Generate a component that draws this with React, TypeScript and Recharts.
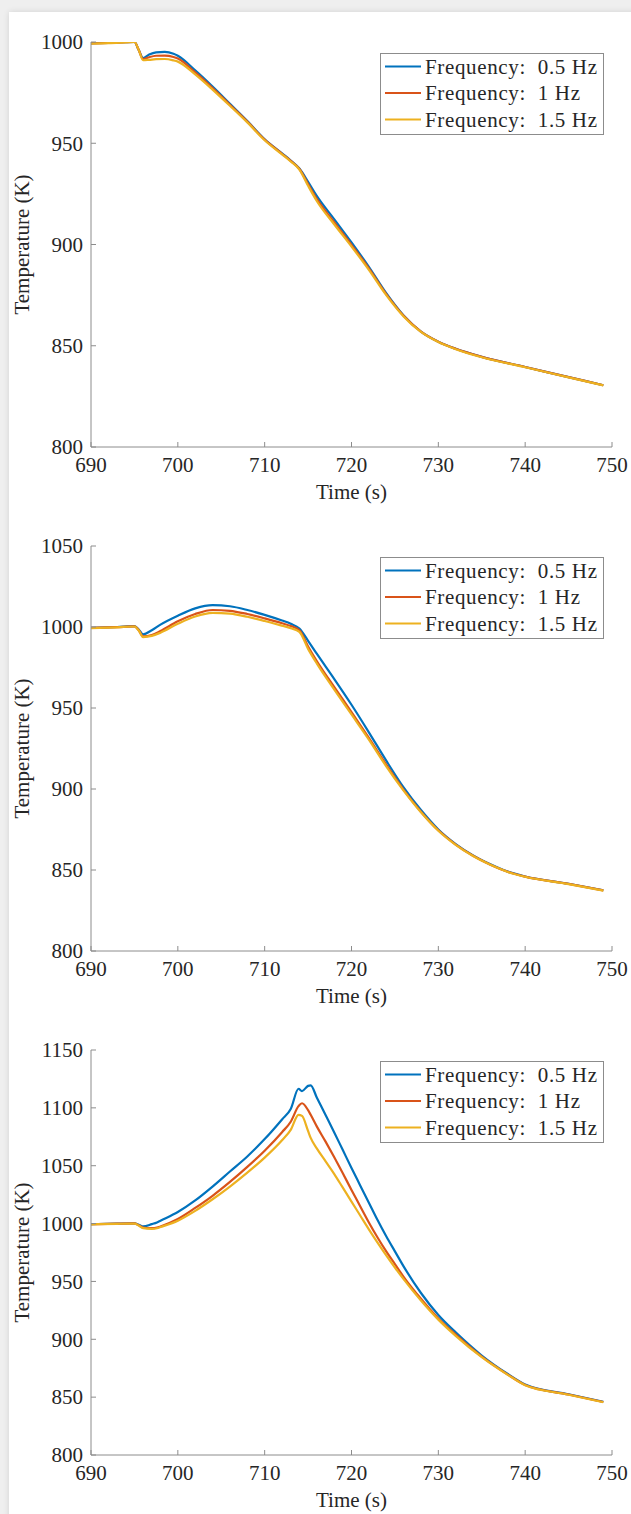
import React from 'react';
import { LineChart, Line, XAxis, YAxis, Legend } from 'recharts';

const FONT = "'Liberation Serif', 'Times New Roman', serif";
const TEXT = '#262626';
const AXIS = '#8c8c8c';
const COLORS = ['#0072BD', '#D95319', '#EDB120'];
const seriesNames = ['Frequency:  0.5 Hz', 'Frequency:  1 Hz', 'Frequency:  1.5 Hz'];
const seriesWidths = [172, 155, 172];
const timeTicks = [690, 700, 710, 720, 730, 740, 750];

// Probe #1
const probe1Time = [690, 692, 694, 695, 695.5, 696, 696.7, 697.5, 698.5, 699.5, 700, 702, 704, 706, 708, 710, 712, 713, 714, 715, 716, 718, 720, 722, 724, 726, 728, 730, 732, 735, 740, 745, 749];
const probe1Hz05 = [999.4, 999.6, 999.9, 1000, 996, 992, 993.8, 994.9, 995.1, 994.2, 993.2, 986, 978, 969.5, 961, 952, 945, 941.5, 937.5, 931, 924, 912.5, 901, 889, 876, 865, 857, 852, 848.5, 844.5, 839.5, 834.5, 830.5];
const probe1Hz1 = [999.3, 999.5, 999.9, 1000, 996, 991.5, 992.5, 993.2, 993.3, 992.6, 991.8, 985, 977.3, 969, 960.7, 951.8, 944.8, 941.3, 937.3, 929.8, 922.5, 911, 899.8, 888.2, 875.5, 864.8, 857, 852, 848.5, 844.5, 839.5, 834.5, 830.5];
const probe1Hz15 = [999.2, 999.4, 999.8, 1000, 996, 991, 991.2, 991.5, 991.6, 990.9, 990.3, 984, 976.5, 968.5, 960.3, 951.5, 944.5, 941, 937, 929, 921.5, 910, 899, 887.5, 875, 864.5, 856.8, 851.8, 848.3, 844.3, 839.4, 834.4, 830.4];
const probe1Ticks = [800, 850, 900, 950, 1000];

// Probe #2
const probe2Time = [690, 693, 695, 695.5, 696, 697, 698, 700, 702, 704, 706, 708, 710, 712, 713, 714, 715, 716, 718, 720, 722, 724, 726, 728, 730, 732, 734, 736, 738, 740, 745, 749];
const probe2Hz05 = [999.5, 1000, 1000.5, 998.5, 995.5, 998, 1001.5, 1007, 1011.5, 1013.5, 1012.8, 1010.5, 1007.5, 1004, 1002, 999, 991.5, 983.5, 968, 952, 935, 917.5, 901, 887, 875, 866, 859, 853.5, 849, 846, 841.5, 837.5];
const probe2Hz1 = [999.4, 999.9, 1000.4, 998, 994.2, 995, 997.5, 1003.5, 1008, 1010.5, 1010, 1008, 1005.3, 1002.3, 1000.6, 998, 988, 979, 963, 947.5, 931.5, 915, 899.5, 886, 874.5, 865.7, 858.8, 853.3, 848.9, 845.9, 841.4, 837.4];
const probe2Hz15 = [999.3, 999.8, 1000.3, 997.8, 993.8, 994.5, 996.5, 1002, 1006.5, 1008.7, 1008.2, 1006.3, 1003.7, 1000.8, 999.3, 997, 986.5, 977.5, 961.5, 946, 930.5, 914, 899, 885.6, 874.2, 865.5, 858.6, 853.2, 848.8, 845.8, 841.3, 837.3];
const probe2Ticks = [800, 850, 900, 950, 1000, 1050];

// Probe #3
const probe3Time = [690, 693, 695, 695.5, 696, 697, 697.6, 698, 700, 702, 704, 706, 708, 710, 712, 713, 713.9, 714.3, 715, 715.3, 716, 717, 718, 719, 720, 721, 722, 723, 724, 725, 726, 728, 730, 732, 735, 738, 740, 745, 749];
const probe3Hz05 = [999.5, 1000, 1000.2, 999, 997.5, 999.5, 1001, 1002.5, 1010, 1020, 1032, 1045, 1058, 1073, 1090, 1099, 1116.5, 1114.5, 1119, 1119.5, 1109, 1094, 1079, 1063.5, 1048, 1033, 1018, 1003, 989, 976, 963, 940, 921, 906, 886, 870, 861, 852.5, 846];
const probe3Hz1 = [999.4, 999.9, 1000.1, 998.5, 996.5, 996, 996.5, 997.5, 1004, 1013.5, 1024, 1036, 1049, 1063, 1079, 1088, 1101.5, 1104, 1098, 1094, 1084, 1071, 1057.5, 1043.5, 1029, 1015, 1001, 988, 976, 965, 954, 935, 918, 904, 885, 869.5, 860.5, 852.3, 845.8];
const probe3Hz15 = [999.3, 999.8, 1000, 998.3, 996, 995.5, 996, 997, 1002.5, 1011, 1021, 1032, 1044, 1057, 1072, 1081, 1094, 1093, 1080, 1074, 1065, 1054, 1043, 1031, 1019, 1007, 995, 983.5, 972.5, 962, 952, 933.5, 917, 903, 884.5, 869.3, 860.3, 852.1, 845.6];
const probe3Ticks = [800, 850, 900, 950, 1000, 1050, 1100, 1150];

const CHART_W = 631;
const CHART_H = 504;
const MARGIN = { top: 42, right: 19, bottom: 0, left: 0 };
const PLOT_LEFT = 91;
const PLOT_RIGHT = CHART_W - MARGIN.right;
const PLOT_CX = (PLOT_LEFT + PLOT_RIGHT) / 2;
const FONT_SIZE = 21;
const textStyle = { fontFamily: FONT, fontSize: FONT_SIZE, fill: TEXT };

function BottomTick(props: any) {
  const { x, y, payload } = props;
  return (
    <text x={x} y={y} dy="0.71em" textAnchor="middle" style={textStyle}>
      {payload.value}
    </text>
  );
}

function LeftTick(props: any) {
  const { x, y, payload } = props;
  return (
    <text x={x} y={y} dy="0.35em" textAnchor="end" style={textStyle}>
      {payload.value}
    </text>
  );
}

function LegendBox() {
  return (
    <svg width={224} height={82} style={{ display: 'block' }}>
      <rect x={0.5} y={0.5} width={223} height={81} fill="#ffffff" stroke={AXIS} strokeWidth={1} />
      {seriesNames.map((name, i) => {
        const cy = 13.5 + i * 26.5;
        return (
          <g key={name}>
            <line x1={5} x2={41} y1={cy} y2={cy} stroke={COLORS[i]} strokeWidth={2.2} />
            <text
              x={45}
              y={cy + 7}
              textLength={seriesWidths[i]}
              lengthAdjust="spacing"
              style={{ ...textStyle, whiteSpace: 'pre' }}
            >
              {name}
            </text>
          </g>
        );
      })}
    </svg>
  );
}

type ProbeProps = {
  title: string;
  time: number[];
  series: number[][];
  yTicks: number[];
  top: number;
};

function ProbeChart({ title, time, series, yTicks, top }: ProbeProps) {
  const rows = time.map((t, i) => ({ t, a: series[0][i], b: series[1][i], c: series[2][i] }));
  const yDomain: [number, number] = [yTicks[0], yTicks[yTicks.length - 1]];
  const plotMidY = MARGIN.top + (CHART_H - MARGIN.top - 57) / 2;
  return (
    <div style={{ position: 'absolute', left: 0, top, width: CHART_W, height: CHART_H }}>
      <LineChart width={CHART_W} height={CHART_H} data={rows} margin={MARGIN}>
        <XAxis
          xAxisId="bottom"
          dataKey="t"
          type="number"
          domain={[690, 750]}
          ticks={timeTicks}
          interval={0}
          allowDataOverflow
          height={57}
          tickSize={-5}
          tickMargin={15}
          axisLine={{ stroke: AXIS }}
          tickLine={{ stroke: AXIS }}
          tick={<BottomTick />}
          label={{
            content: () => (
              <text x={PLOT_CX} y={499} textAnchor="middle" style={textStyle}>
                Time (s)
              </text>
            ),
          }}
        />
        <XAxis
          xAxisId="top"
          orientation="top"
          dataKey="t"
          type="number"
          domain={[690, 750]}
          ticks={timeTicks}
          interval={0}
          allowDataOverflow
          height={0}
          tickSize={-5}
          tickMargin={0}
          axisLine={{ stroke: AXIS }}
          tickLine={{ stroke: AXIS }}
          tick={false}
          label={{
            content: () => (
              <text x={PLOT_CX} y={29} textAnchor="middle" style={textStyle}>
                {title}
              </text>
            ),
          }}
        />
        <YAxis
          yAxisId="left"
          type="number"
          domain={yDomain}
          ticks={yTicks}
          interval={0}
          allowDataOverflow
          width={PLOT_LEFT}
          tickSize={-5}
          tickMargin={13}
          axisLine={{ stroke: AXIS }}
          tickLine={{ stroke: AXIS }}
          tick={<LeftTick />}
          label={{
            content: () => (
              <text
                x={22}
                y={plotMidY}
                transform={`rotate(-90 22 ${plotMidY})`}
                textAnchor="middle"
                dominantBaseline="central"
                style={textStyle}
              >
                Temperature (K)
              </text>
            ),
          }}
        />
        <YAxis
          yAxisId="right"
          orientation="right"
          type="number"
          domain={yDomain}
          ticks={yTicks}
          interval={0}
          allowDataOverflow
          width={0}
          tickSize={-5}
          tickMargin={0}
          axisLine={{ stroke: AXIS }}
          tickLine={{ stroke: AXIS }}
          tick={false}
        />
        {['a', 'b', 'c'].map((key, i) => (
          <Line
            key={key}
            xAxisId="bottom"
            yAxisId="left"
            dataKey={key}
            type="monotone"
            stroke={COLORS[i]}
            strokeWidth={2.2}
            dot={false}
            isAnimationActive={false}
          />
        ))}
        <Legend
          layout="horizontal"
          verticalAlign="middle"
          align="center"
          content={() => <LegendBox />}
          wrapperStyle={{ position: 'absolute', left: 380, top: 53, width: 224, height: 82 }}
        />
      </LineChart>
    </div>
  );
}

export default function App() {
  return (
    <div style={{ position: 'absolute', left: 0, top: 0, width: 631, height: 1514, background: '#efefef', overflow: 'hidden' }}>
      <div
        style={{
          position: 'absolute',
          left: 9,
          top: 12,
          right: -20,
          bottom: -20,
          background: '#ffffff',
          boxShadow: '0 0 6px rgba(0,0,0,0.12)',
        }}
      />
      <ProbeChart title="Probe #1" time={probe1Time} series={[probe1Hz05, probe1Hz1, probe1Hz15]} yTicks={probe1Ticks} top={0} />
      <ProbeChart title="Probe #2" time={probe2Time} series={[probe2Hz05, probe2Hz1, probe2Hz15]} yTicks={probe2Ticks} top={504} />
      <ProbeChart title="Probe #3" time={probe3Time} series={[probe3Hz05, probe3Hz1, probe3Hz15]} yTicks={probe3Ticks} top={1008} />
    </div>
  );
}
